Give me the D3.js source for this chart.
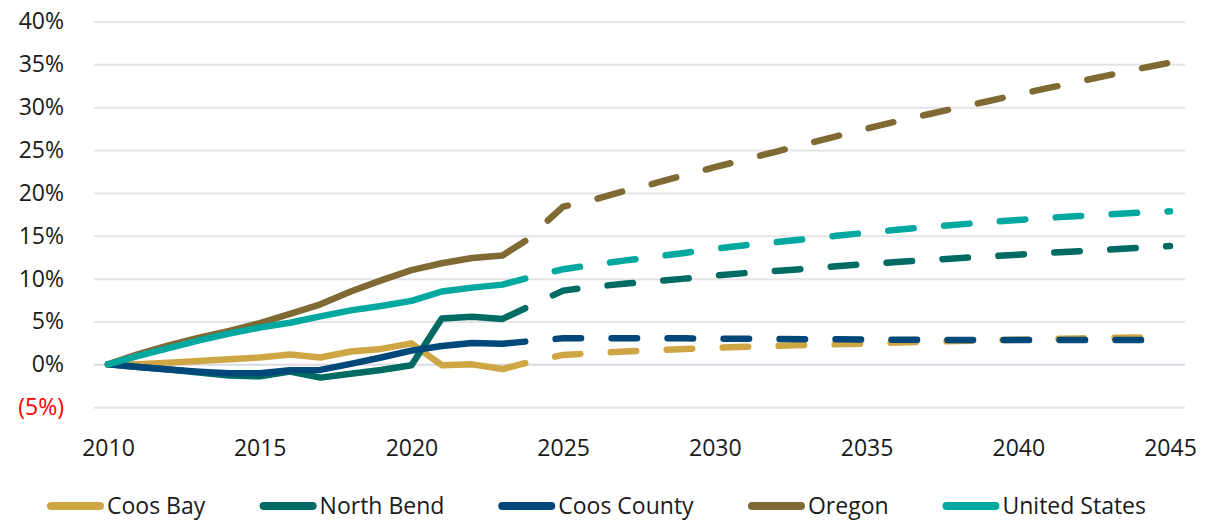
<!DOCTYPE html>
<html>
<head>
<meta charset="utf-8">
<script src="https://cdn.jsdelivr.net/npm/d3@7"></script>
<style>
  body { margin: 0; background: #ffffff; }
  svg { display: block; font-family: "Open Sans", "Noto Sans", sans-serif; }
</style>
</head>
<body>
<svg id="chart" width="1210" height="521"></svg>
<script>
// Population change since 2010 (%), observed estimates and projections
const histYears = [2010, 2011, 2012, 2013, 2014, 2015, 2016, 2017, 2018, 2019, 2020, 2021, 2022, 2023, 2023.75];
const projYears = [2025, 2026, 2027, 2028, 2029, 2030, 2031, 2032, 2033, 2034, 2035,
                   2036, 2037, 2038, 2039, 2040, 2041, 2042, 2043, 2044, 2045];

const coosBayHist    = [0, 0.0, 0.2, 0.4, 0.6, 0.8, 1.15, 0.8, 1.5, 1.8, 2.45, -0.1, 0.0, -0.55, 0.15];
const northBendHist  = [0, -0.3, -0.6, -0.95, -1.3, -1.4, -0.85, -1.55, -1.1, -0.65, -0.1, 5.35, 5.55, 5.3, 6.55];
const coosCountyHist = [0, -0.3, -0.6, -0.85, -1.05, -1.05, -0.7, -0.65, 0.05, 0.8, 1.6, 2.15, 2.5, 2.4, 2.65];
const oregonHist     = [0, 1.2, 2.2, 3.1, 3.9, 4.8, 5.9, 7.0, 8.5, 9.8, 11.0, 11.8, 12.4, 12.7, 14.4];
const usHist         = [0, 1.0, 1.9, 2.8, 3.6, 4.3, 4.85, 5.6, 6.3, 6.8, 7.4, 8.5, 8.95, 9.3, 10.0];

const coosBayProj    = [1.1, 1.3, 1.5, 1.65, 1.8, 1.93, 2.05, 2.15, 2.25, 2.34, 2.43,
                        2.55, 2.63, 2.72, 2.8, 2.87, 2.95, 3.02, 3.08, 3.14, 3.2];
const northBendProj  = [8.6, 9.05, 9.4, 9.7, 10.0, 10.35, 10.65, 10.9, 11.15, 11.45, 11.7,
                        11.95, 12.17, 12.38, 12.6, 12.8, 13.0, 13.2, 13.4, 13.6, 13.8];
const coosCountyProj = [3.05, 3.05, 3.05, 3.05, 3.03, 3.0, 2.98, 2.96, 2.94, 2.92, 2.9,
                        2.88, 2.86, 2.85, 2.84, 2.83, 2.83, 2.83, 2.84, 2.85, 2.86];
const oregonProj     = [18.4, 19.2, 20.2, 21.1, 22.1, 23.0, 23.9, 24.8, 25.7, 26.6, 27.5,
                        28.35, 29.15, 29.95, 30.7, 31.5, 32.25, 33.0, 33.75, 34.5, 35.2];
const usProj         = [11.1, 11.6, 12.1, 12.55, 13.0, 13.5, 13.9, 14.25, 14.6, 15.0, 15.35,
                        15.7, 16.0, 16.3, 16.6, 16.85, 17.1, 17.3, 17.5, 17.7, 17.85];

const seriesNames  = ["Coos Bay", "North Bend", "Coos County", "Oregon", "United States"];
const seriesColors = ["#CFA644", "#006B63", "#00477A", "#806A34", "#00A8A0"];
const histValues   = [coosBayHist, northBendHist, coosCountyHist, oregonHist, usHist];
const projValues   = [coosBayProj, northBendProj, coosCountyProj, oregonProj, usProj];

const yTicks = [-5, 0, 5, 10, 15, 20, 25, 30, 35, 40];
const xTicks = [2010, 2015, 2020, 2025, 2030, 2035, 2040, 2045];

const svg = d3.select("#chart");
const gridLeft = 94, gridRight = 1185;

const x = d3.scaleLinear().domain([2010, 2045]).range([108, 1170]);
const y = d3.scaleLinear().domain([-5, 40]).range([407.2, 21.5]);

// Horizontal gridlines and percentage labels
const yAxis = svg.append("g")
  .attr("transform", `translate(${gridLeft},0)`)
  .call(d3.axisLeft(y)
    .tickValues(yTicks)
    .tickSize(-(gridRight - gridLeft))
    .tickPadding(30)
    .tickFormat(d => d < 0 ? `(${-d}%)` : `${d}%`));
yAxis.select(".domain").remove();
yAxis.selectAll(".tick line")
  .attr("stroke", d => d === 0 ? "#D9DBE4" : "#E4E4E6")
  .attr("stroke-width", 2);
yAxis.selectAll(".tick text")
  .attr("font-size", 23)
  .attr("font-family", "Open Sans, Noto Sans, sans-serif")
  .attr("fill", d => d < 0 ? "#FF0000" : "#1a1a1a");

// Year labels
const xAxis = svg.append("g")
  .attr("transform", "translate(0,407)")
  .call(d3.axisBottom(x).tickValues(xTicks).tickSize(0).tickPadding(33).tickFormat(d3.format("d")));
xAxis.select(".domain").remove();
xAxis.selectAll(".tick text")
  .attr("font-size", 23)
  .attr("font-family", "Open Sans, Noto Sans, sans-serif")
  .attr("fill", "#1a1a1a");

const line = d3.line().x(d => x(d.year)).y(d => y(d.v));

const histData = histValues.map(vals => vals.map((v, i) => ({ year: histYears[i], v })));
const projData = projValues.map((vals, s) => {
  const last = histData[s][histData[s].length - 1];
  return [last].concat(vals.map((v, i) => ({ year: projYears[i], v })));
});

const lineWidth = 6.5;

// Observed series (solid)
svg.append("g").selectAll("path")
  .data(histData)
  .join("path")
  .attr("d", line)
  .attr("fill", "none")
  .attr("stroke", (d, i) => seriesColors[i])
  .attr("stroke-width", lineWidth)
  .attr("stroke-linecap", "round")
  .attr("stroke-linejoin", "round");

// Projected series (dashed)
svg.append("g").selectAll("path")
  .data(projData)
  .join("path")
  .attr("d", line)
  .attr("fill", "none")
  .attr("stroke", (d, i) => seriesColors[i])
  .attr("stroke-width", lineWidth)
  .attr("stroke-linecap", "round")
  .attr("stroke-linejoin", "round")
  .attr("stroke-dasharray", "25.5 30.5")
  .attr("stroke-dashoffset", 25.5);

// Legend
const legend = svg.append("g");
const swatchLen = 57, textGap = 3, legendY = 506;
const items = legend.selectAll("g")
  .data(seriesNames)
  .join("g");
items.append("line")
  .attr("x1", 4).attr("x2", swatchLen - 4)
  .attr("y1", legendY).attr("y2", legendY)
  .attr("stroke", (d, i) => seriesColors[i])
  .attr("stroke-width", 8)
  .attr("stroke-linecap", "round");
items.append("text")
  .attr("x", swatchLen + textGap)
  .attr("y", legendY)
  .attr("dy", "0.35em")
  .attr("font-size", 23)
  .attr("fill", "#1a1a1a")
  .text(d => d);

const widths = [];
items.each(function () { widths.push(this.getBBox().width); });
const spanStart = 47, spanEnd = 1142;
const totalItems = d3.sum(widths);
const gap = (spanEnd - spanStart - totalItems) / (widths.length - 1);
let cursor = spanStart;
items.attr("transform", (d, i) => {
  const tx = cursor;
  cursor += widths[i] + gap;
  return `translate(${tx},0)`;
});
</script>
</body>
</html>
